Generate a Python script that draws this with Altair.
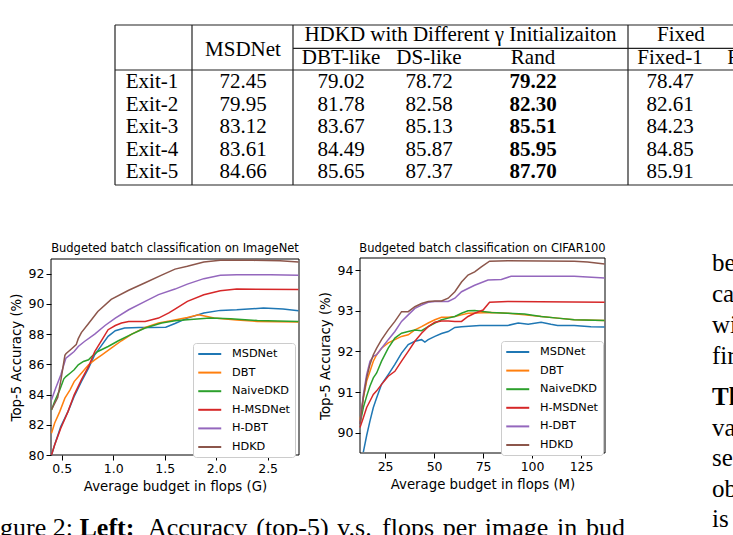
import altair as alt
import pandas as pd

# ---------------- data : ImageNet panel ----------------
MODELS = ["MSDNet", "DBT", "NaiveDKD", "H-MSDNet", "H-DBT", "HDKD"]
COLORS = ["#1f77b4", "#ff7f0e", "#2ca02c", "#d62728", "#9467bd", "#8c564b"]

IN_MSDNET_X = [0.40, 0.43, 0.49, 0.56, 0.62, 0.69, 0.76, 0.82, 0.89, 0.95, 1.02, 1.11, 1.25, 1.35, 1.51, 1.60, 1.72, 1.88, 2.04, 2.20, 2.46, 2.65, 2.80]
IN_MSDNET_Y = [80.0, 80.66, 81.88, 82.87, 83.87, 84.86, 85.75, 86.63, 87.29, 87.85, 88.22, 88.40, 88.44, 88.44, 88.46, 88.70, 89.06, 89.39, 89.57, 89.61, 89.72, 89.66, 89.55]
IN_DBT_X = [0.40, 0.43, 0.48, 0.53, 0.58, 0.62, 0.69, 0.76, 0.82, 0.89, 0.98, 1.08, 1.18, 1.31, 1.44, 1.56, 1.72, 1.83, 1.98, 2.20, 2.40, 2.80]
IN_DBT_Y = [81.44, 82.10, 82.87, 83.76, 84.31, 84.86, 85.41, 85.97, 86.30, 86.63, 87.07, 87.56, 88.00, 88.44, 88.73, 88.88, 89.10, 89.28, 89.06, 88.93, 88.84, 88.80]
IN_NAIVE_X = [0.40, 0.43, 0.48, 0.52, 0.54, 0.58, 0.62, 0.66, 0.71, 0.76, 0.79, 0.85, 0.95, 1.05, 1.18, 1.31, 1.47, 1.60, 1.72, 1.94, 2.14, 2.40, 2.80]
IN_NAIVE_Y = [82.98, 83.54, 84.31, 85.04, 85.19, 85.41, 85.64, 85.97, 86.19, 86.30, 86.52, 86.85, 87.18, 87.56, 88.00, 88.40, 88.73, 88.88, 88.95, 89.06, 89.02, 88.90, 88.84]
IN_HMSD_X = [0.40, 0.43, 0.49, 0.56, 0.62, 0.69, 0.76, 0.82, 0.89, 0.95, 1.02, 1.08, 1.15, 1.31, 1.44, 1.54, 1.60, 1.72, 1.88, 2.04, 2.20, 2.80]
IN_HMSD_Y = [80.00, 80.66, 81.77, 82.87, 83.98, 84.97, 85.86, 86.85, 87.62, 88.29, 88.57, 88.73, 88.84, 88.84, 89.06, 89.40, 89.65, 90.17, 90.60, 90.87, 90.98, 90.96]
IN_HDBT_X = [0.40, 0.44, 0.49, 0.52, 0.54, 0.58, 0.62, 0.66, 0.72, 0.82, 0.92, 1.02, 1.15, 1.31, 1.44, 1.60, 1.72, 1.88, 2.04, 2.20, 2.53, 2.80]
IN_HDBT_Y = [83.65, 84.42, 85.30, 85.97, 86.41, 86.63, 86.85, 87.18, 87.51, 88.00, 88.57, 89.06, 89.61, 90.17, 90.61, 90.98, 91.31, 91.67, 91.89, 91.93, 91.93, 91.89]
IN_HDKD_X = [0.40, 0.46, 0.49, 0.53, 0.54, 0.59, 0.64, 0.66, 0.69, 0.76, 0.85, 0.98, 1.15, 1.31, 1.47, 1.60, 1.72, 1.88, 2.04, 2.36, 2.62, 2.80]
IN_HDKD_Y = [83.00, 83.80, 84.90, 86.60, 86.70, 87.00, 87.30, 87.70, 88.10, 88.70, 89.50, 90.30, 90.90, 91.40, 91.90, 92.30, 92.49, 92.77, 92.88, 92.88, 92.86, 92.77]
IN_XTICKS = [0.5, 1.0, 1.5, 2.0, 2.5]
IN_YTICKS = [80, 82, 84, 86, 88, 90, 92]
IN_XDOM = [0.395, 2.805]
IN_YDOM = [80.0, 92.97]

# ---------------- data : CIFAR100 panel ----------------
CF_MSDNET_X = [13.9, 15.6, 17.3, 19.0, 20.7, 23.2, 26.6, 30.0, 33.4, 36.8, 40.2, 43.6, 45.3, 47.0, 50.4, 53.8, 57.2, 60.6, 64.0, 73.3, 87.6, 92.9, 98.0, 104.6, 109.6, 113.0, 121.5, 130.0, 137.0]
CF_MSDNET_Y = [89.52, 89.93, 90.29, 90.62, 90.86, 91.19, 91.43, 91.68, 91.96, 92.17, 92.25, 92.29, 92.23, 92.29, 92.37, 92.44, 92.49, 92.59, 92.61, 92.64, 92.64, 92.70, 92.67, 92.72, 92.67, 92.64, 92.64, 92.61, 92.60]
CF_DBT_X = [12.2, 13.9, 15.6, 17.3, 19.0, 20.7, 23.2, 26.6, 30.0, 33.4, 36.8, 40.2, 43.6, 47.0, 50.4, 53.8, 57.2, 60.6, 64.0, 67.3, 79.2, 87.6, 96.1, 104.6, 113.0, 121.5, 137.0]
CF_DBT_Y = [90.29, 90.86, 91.27, 91.51, 91.76, 91.92, 92.08, 92.21, 92.29, 92.37, 92.41, 92.53, 92.61, 92.70, 92.78, 92.84, 92.84, 92.86, 92.90, 92.94, 92.96, 92.94, 92.90, 92.86, 92.82, 92.78, 92.76]
CF_NAIVE_X = [12.2, 13.9, 15.6, 17.3, 19.0, 20.7, 23.2, 26.6, 30.0, 33.4, 36.8, 40.2, 43.6, 47.0, 50.4, 53.8, 57.2, 60.6, 64.0, 67.3, 70.7, 79.2, 87.6, 96.1, 104.6, 113.0, 121.5, 137.0]
CF_NAIVE_Y = [90.21, 90.62, 90.90, 91.15, 91.35, 91.47, 91.76, 92.08, 92.33, 92.45, 92.49, 92.53, 92.51, 92.61, 92.70, 92.78, 92.82, 92.86, 92.94, 93.00, 93.01, 92.96, 92.94, 92.92, 92.86, 92.82, 92.78, 92.76]
CF_HMSD_X = [12.2, 13.9, 15.6, 17.3, 19.0, 20.7, 23.2, 26.6, 30.0, 33.4, 36.8, 40.2, 43.6, 47.0, 50.4, 53.8, 57.2, 60.6, 64.0, 67.3, 70.7, 75.0, 78.3, 87.6, 137.0]
CF_HMSD_Y = [90.13, 90.37, 90.62, 90.78, 90.94, 91.03, 91.19, 91.39, 91.51, 91.76, 92.00, 92.25, 92.45, 92.61, 92.72, 92.75, 92.75, 92.74, 92.74, 92.86, 92.94, 93.02, 93.21, 93.23, 93.21]
CF_HDBT_X = [12.2, 13.9, 15.6, 17.3, 19.0, 20.7, 23.2, 26.6, 30.0, 33.4, 36.8, 40.2, 43.6, 47.0, 50.4, 57.2, 60.6, 64.0, 67.3, 70.7, 77.5, 84.3, 89.3, 121.5, 137.0]
CF_HDBT_Y = [90.21, 90.94, 91.43, 91.76, 91.88, 91.92, 92.08, 92.29, 92.49, 92.74, 92.90, 93.06, 93.14, 93.21, 93.23, 93.23, 93.31, 93.47, 93.55, 93.63, 93.76, 93.77, 93.85, 93.85, 93.81]
CF_HDKD_X = [12.2, 13.9, 15.6, 17.3, 19.0, 20.7, 23.2, 26.6, 30.0, 33.4, 36.8, 40.2, 43.6, 47.0, 50.4, 53.8, 57.2, 60.6, 64.0, 67.3, 70.7, 74.1, 78.3, 87.6, 121.5, 128.3, 137.0]
CF_HDKD_Y = [90.21, 90.86, 91.35, 91.68, 91.92, 92.08, 92.29, 92.53, 92.74, 92.98, 92.98, 93.10, 93.18, 93.23, 93.24, 93.24, 93.31, 93.47, 93.71, 93.88, 93.96, 94.08, 94.22, 94.23, 94.22, 94.20, 94.15]
CF_XTICKS = [25, 50, 75, 100, 125]
CF_YTICKS = [90, 91, 92, 93, 94]
CF_XDOM = [12.2, 137.2]
CF_YDOM = [89.5, 94.3]

# ---------------- data : table ----------------
EXITS = ["Exit-1", "Exit-2", "Exit-3", "Exit-4", "Exit-5"]
TBL_MSDNET = ["72.45", "79.95", "83.12", "83.61", "84.66"]
TBL_DBT_LIKE = ["79.02", "81.78", "83.67", "84.49", "85.65"]
TBL_DS_LIKE = ["78.72", "82.58", "85.13", "85.87", "87.37"]
TBL_RAND = ["79.22", "82.30", "85.51", "85.95", "87.70"]
TBL_FIXED1 = ["78.47", "82.61", "84.23", "84.85", "85.91"]
SUB_HEADERS = ["DBT-like", "DS-like", "Rand", "Fixed-1", "Fixed-2"]
GROUP_HEADER = "HDKD with Different \u03b3 Initializaiton"
FIXED_HEADER = "Fixed"

# page text fragments (cut by the page crop)
SIDE_WORDS = ["be", "ca", "wi", "fir", "Th", "va", "se", "ob", "is"]
SIDE_BOLD = [False, False, False, False, True, False, False, False, False]
CAPTION_HEAD = "Figure 2:"
CAPTION_BOLD = "Left:"
CAPTION_WORDS = ["Accuracy", "(top-5)", "v.s.", "flops", "per", "image", "in", "bud"]

# ---------------- layout (page pixels) ----------------
W, H = 733, 535
SERIF = "Liberation Serif"
SANS = "DejaVu Sans"
P1_X, P1_Y = [51, 299], [455, 259]
P2_X, P2_Y = [360, 605], [453, 258]
LEG1, LEG2 = (193, 343), (501, 341)
TITLE_BASE = 252

COL_X = {"label": 152, "MSDNet": 243, "DBT-like": 341, "DS-like": 429, "Rand": 533,
         "Fixed-1": 670, "Fixed-2": 760}
ROW_BASE = [88.3, 110.8, 133.3, 155.8, 178.3]
HDR1_BASE, MSD_HDR_BASE, HDR2_BASE = 40.7, 56, 64.3
GROUP_X, FIXED_X = 460.5, 657
H_RULES = [(115, 733, 25), (293, 733, 48.3), (115, 733, 70), (115, 733, 185)]
V_RULES = [115, 192, 293, 628]
SIDE_X = 712
SIDE_BASE = [271, 302, 333, 364, 405, 436, 466, 497, 527]
CAP_SIZE = 26
CAP_HEAD_X, CAP_BOLD_X = -21.7, 79.5
CAP_WORDS_SPAN = (148, 625)   # justified line: first word start, last word end
CAP_BASE = 536

# Times advance widths (1/1000 em) used to justify the caption words
TIMES_W = {"A": 722, "c": 444, "u": 500, "r": 333, "a": 444, "y": 500, "(": 333, "t": 278,
           "o": 500, "p": 500, "-": 333, "5": 500, ")": 333, "v": 500, ".": 250, "s": 389,
           "f": 333, "l": 278, "e": 444, "i": 278, "m": 778, "g": 500, "n": 500, "b": 500,
           "d": 500}


def series_frame(pairs):
    rows = []
    for name, xs, ys in pairs:
        for xv, yv in zip(xs, ys):
            rows.append({"model": name, "flops": xv, "acc": yv})
    return pd.DataFrame(rows)


in_df = series_frame([
    ("MSDNet", IN_MSDNET_X, IN_MSDNET_Y), ("DBT", IN_DBT_X, IN_DBT_Y),
    ("NaiveDKD", IN_NAIVE_X, IN_NAIVE_Y), ("H-MSDNet", IN_HMSD_X, IN_HMSD_Y),
    ("H-DBT", IN_HDBT_X, IN_HDBT_Y), ("HDKD", IN_HDKD_X, IN_HDKD_Y)])
cf_df = series_frame([
    ("MSDNet", CF_MSDNET_X, CF_MSDNET_Y), ("DBT", CF_DBT_X, CF_DBT_Y),
    ("NaiveDKD", CF_NAIVE_X, CF_NAIVE_Y), ("H-MSDNet", CF_HMSD_X, CF_HMSD_Y),
    ("H-DBT", CF_HDBT_X, CF_HDBT_Y), ("HDKD", CF_HDKD_X, CF_HDKD_Y)])


def panel(df, xdom, ydom, xr, yr, xvals, yvals, xfmt, xtitle, leg):
    xscale = alt.Scale(domain=xdom, range=xr, nice=False, zero=False)
    yscale = alt.Scale(domain=ydom, range=yr, nice=False, zero=False)
    xaxis = alt.Axis(values=xvals, format=xfmt, title=xtitle, orient="bottom", offset=yr[0] - H)
    yaxis = alt.Axis(values=yvals, format="d", title="Top-5 Accuracy (%)", orient="left", offset=-xr[0])
    legend = alt.Legend(title=None, orient="none", legendX=leg[0], legendY=leg[1], padding=4,
                        fillColor="white", strokeColor="#cccccc", cornerRadius=3,
                        symbolType="M-1,0H3", symbolStrokeWidth=2, symbolSize=132,
                        labelFont=SANS, labelFontSize=11.3, labelColor="black",
                        rowPadding=5.6, labelOffset=21)
    lines = alt.Chart(df).mark_line(strokeWidth=1.5).encode(
        x=alt.X("flops:Q", scale=xscale, axis=xaxis),
        y=alt.Y("acc:Q", scale=yscale, axis=yaxis),
        color=alt.Color("model:N", scale=alt.Scale(domain=MODELS, range=COLORS), legend=legend),
    )
    frame_df = pd.DataFrame({"flops": [xdom[0]], "flops2": [xdom[1]], "acc": [ydom[0]], "acc2": [ydom[1]]})
    frame = alt.Chart(frame_df).mark_rect(fill="transparent", stroke="black", strokeWidth=1).encode(
        x=alt.X("flops:Q", scale=xscale, axis=xaxis), x2="flops2:Q",
        y=alt.Y("acc:Q", scale=yscale, axis=yaxis), y2="acc2:Q")
    return alt.layer(frame, lines)


p1 = panel(in_df, IN_XDOM, IN_YDOM, P1_X, P1_Y, IN_XTICKS, IN_YTICKS, ".1f",
           "Average budget in flops (G)", LEG1)
p2 = panel(cf_df, CF_XDOM, CF_YDOM, P2_X, P2_Y, CF_XTICKS, CF_YTICKS, "d",
           "Average budget in flops (M)", LEG2)


def text_layer(rows, font, size, weight="normal", align="center", baseline="alphabetic"):
    df = pd.DataFrame(rows, columns=["px", "py", "t"])
    return alt.Chart(df).mark_text(font=font, fontSize=size, fontWeight=weight, align=align,
                                   baseline=baseline, color="black", clip=True).encode(
        x=alt.X("px:Q", scale=None, axis=None), y=alt.Y("py:Q", scale=None, axis=None), text="t:N")


# panel titles
titles = text_layer([((P1_X[0] + P1_X[1]) / 2, TITLE_BASE, "Budgeted batch classification on ImageNet"),
                     ((P2_X[0] + P2_X[1]) / 2, TITLE_BASE, "Budgeted batch classification on CIFAR100")],
                    SANS, 11.5)

# table
norm_rows, bold_rows = [], []
for i, ex in enumerate(EXITS):
    b = ROW_BASE[i]
    norm_rows.append((COL_X["label"], b, ex))
    for key, col in [("MSDNet", TBL_MSDNET), ("DBT-like", TBL_DBT_LIKE), ("DS-like", TBL_DS_LIKE),
                     ("Fixed-1", TBL_FIXED1)]:
        norm_rows.append((COL_X[key], b, col[i]))
    bold_rows.append((COL_X["Rand"], b, TBL_RAND[i]))
norm_rows.append((COL_X["MSDNet"], MSD_HDR_BASE, "MSDNet"))
for hname in SUB_HEADERS:
    norm_rows.append((COL_X[hname], HDR2_BASE, hname))
norm_rows.append((GROUP_X, HDR1_BASE, GROUP_HEADER))
t_norm = text_layer(norm_rows, SERIF, 21)
t_bold = text_layer(bold_rows, SERIF, 21, weight="bold")
t_fixed = text_layer([(FIXED_X, HDR1_BASE, FIXED_HEADER)], SERIF, 21, align="left")

rule_rows = [{"x": a, "x2": b, "y": y, "y2": y} for a, b, y in H_RULES]
rule_rows += [{"x": v, "x2": v, "y": H_RULES[0][2], "y2": H_RULES[-1][2]} for v in V_RULES]
t_rules = alt.Chart(pd.DataFrame(rule_rows)).mark_rule(color="#222222", strokeWidth=1.2, clip=True).encode(
    x=alt.X("x:Q", scale=None, axis=None), x2="x2:Q",
    y=alt.Y("y:Q", scale=None, axis=None), y2="y2:Q")

# caption (justified line) and side column
word_w = [sum(TIMES_W[ch] for ch in w) * CAP_SIZE / 1000 for w in CAPTION_WORDS]
gap = (CAP_WORDS_SPAN[1] - CAP_WORDS_SPAN[0] - sum(word_w)) / (len(CAPTION_WORDS) - 1)
cap_rows = [(CAP_HEAD_X, CAP_BASE, CAPTION_HEAD)]
xpos = CAP_WORDS_SPAN[0]
for w, ww in zip(CAPTION_WORDS, word_w):
    cap_rows.append((xpos, CAP_BASE, w))
    xpos += ww + gap
cap_norm = text_layer(cap_rows, SERIF, CAP_SIZE, align="left")
cap_bold = text_layer([(CAP_BOLD_X, CAP_BASE, CAPTION_BOLD)], SERIF, CAP_SIZE, weight="bold", align="left")
side_norm = text_layer([(SIDE_X, SIDE_BASE[i], SIDE_WORDS[i]) for i in range(len(SIDE_WORDS)) if not SIDE_BOLD[i]],
                       SERIF, 25, align="left")
side_bold = text_layer([(SIDE_X, SIDE_BASE[i], SIDE_WORDS[i]) for i in range(len(SIDE_WORDS)) if SIDE_BOLD[i]],
                       SERIF, 25, weight="bold", align="left")

chart = alt.layer(
    p1, p2, titles, t_rules, t_norm, t_bold, t_fixed, cap_norm, cap_bold, side_norm, side_bold
).resolve_scale(x="independent", y="independent", color="independent").resolve_axis(
    x="independent", y="independent").resolve_legend(color="independent").properties(
    width=W, height=H, padding=0, autosize=alt.AutoSizeParams(type="none"), background="white"
).configure_view(stroke="transparent").configure_axis(
    grid=False, domain=False, ticks=True, tickSize=5, tickColor="black", tickWidth=1,
    labelFont=SANS, labelFontSize=12.5, labelColor="black", labelPadding=2,
    titleFont=SANS, titleFontSize=13.3, titleFontWeight="normal", titleColor="black", titlePadding=5)

chart.save("out.html", embed_options={"renderer": "svg", "actions": False})
